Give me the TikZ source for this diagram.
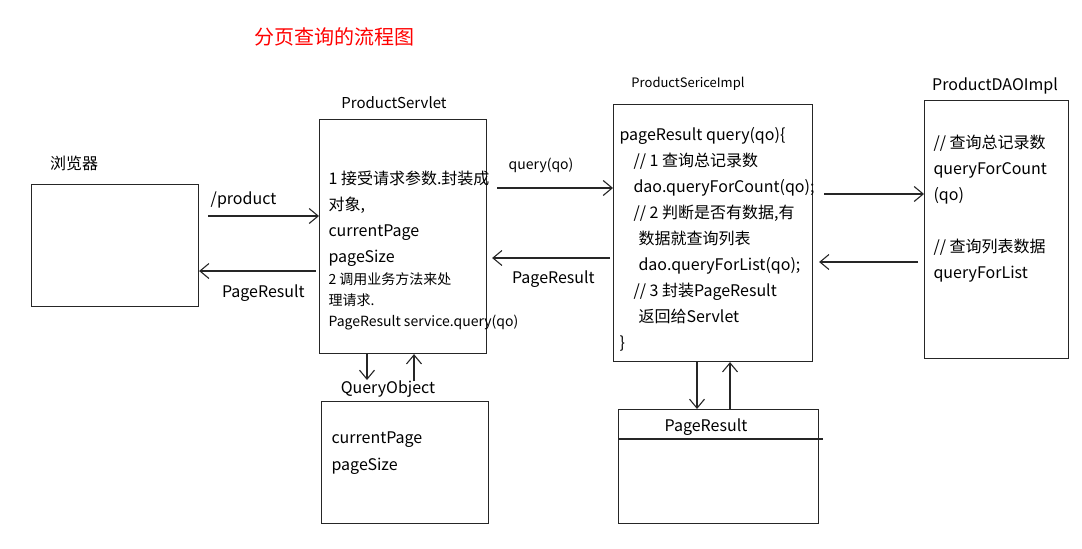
\documentclass[tikz,border=0pt]{standalone}
\usepackage{fontspec}
\setmainfont{Noto Sans CJK SC}
\usetikzlibrary{calc,arrows.meta}

\begin{document}
\begin{tikzpicture}[x=1pt, y=-1pt, line width=1.1pt, draw=black!85,
  box/.style={draw, anchor=north west, inner sep=0},
  lbl/.style={font=\fontsize{16}{26}\selectfont, inner sep=0},
  txt/.style={font=\fontsize{16}{26}\selectfont, align=left, anchor=base west, inner sep=0},
  arr/.style={-{Straight Barb[length=9pt,width=15pt]}}]

\useasboundingbox (0,0) rectangle (1082,549);

\node[red, font=\fontsize{20}{24}\selectfont] (title) at (334,37) {分页查询的流程图};

% boxes
\node[box, minimum width=167, minimum height=122] (brw) at (31,184) {};
\node[box, minimum width=167, minimum height=234] (srv) at (319,119) {};
\node[box, minimum width=199, minimum height=257] (svc) at (613,104) {};
\node[box, minimum width=144, minimum height=258] (dao) at (924,100) {};
\node[box, minimum width=167, minimum height=122] (qo) at (321,401) {};
\node[box, minimum width=200, minimum height=114] (res) at (618,409) {};
\draw ($(res.north west)+(0,30)$) -- ($(res.north east)+(4,30)$);

% titles
\node[lbl] (brwl) at (74,163) {浏览器};
\node[lbl, font=\fontsize{15}{20}\selectfont] (srvl) at (394,103) {ProductServlet};
\node[lbl, font=\fontsize{13}{18}\selectfont] (svcl) at (688,84) {ProductSericeImpl};
\node[lbl] (daol) at (995,86) {ProductDAOImpl};
\node[lbl] (qol) at (388,389) {QueryObject};
\node[lbl] (resl) at (706,427) {PageResult};

% contents (base = last line)
\node[txt] (srvt) at (328,262.5) {1 接受请求参数.封装成\\对象,\\currentPage\\pageSize};
\node[txt, font=\fontsize{14}{21}\selectfont] (srvs) at (328,326)
  {2 调用业务方法来处\\理请求.\\PageResult service.query(qo)};
\node[txt] (svct) at (619,348.5) {pageResult query(qo)\{\\
  \hspace*{14pt}// 1 查询总记录数\\
  \hspace*{14pt}dao.queryForCount(qo);\\
  \hspace*{14pt}// 2 判断是否有数据,有\\
  \hspace*{19pt}数据就查询列表\\
  \hspace*{19pt}dao.queryForList(qo);\\
  \hspace*{14pt}// 3 封装PageResult\\
  \hspace*{19pt}返回给Servlet\\
  \}};
\node[txt] (daot) at (933,278.5) {// 查询总记录数\\queryForCount\\(qo)\\[26pt]// 查询列表数据\\queryForList};
\node[txt, font=\fontsize{16}{27}\selectfont] (qot) at (331,470) {currentPage\\pageSize};

% connectors
\coordinate (p1) at (208,216);
\coordinate (p2) at (316,271);
\draw[arr] (p1) -- (p1 -| srv.west) node[lbl, pos=0.32, shift={(0,-16)}] (p1l) {/product};
\draw[arr] (p2) -- (p2 -| brw.east) node[lbl, pos=0.45, shift={(0,22)}] (p2l) {PageResult};

\coordinate (q1) at (497,188);
\coordinate (q2) at (610,258);
\draw[arr] (q1) -- (q1 -| svc.west) node[lbl, font=\fontsize{14}{18}\selectfont, pos=0.38, shift={(0,-23)}] (q1l) {query(qo)};
\draw[arr] (q2) -- ($(q2 -| srv.east)+(5,0)$) node[lbl, pos=0.48, shift={(0,21)}] (q2l) {PageResult};

\coordinate (c1) at (824,194);
\coordinate (c2) at (918,262);
\draw[arr] (c1) -- (c1 -| dao.west);
\draw[arr] (c2) -- ($(c2 -| svc.east)+(6,0)$);

\coordinate (d1) at (367,380);
\coordinate (u1) at (414,381);
\draw[arr] (d1 |- srv.south) -- (d1);
\draw[arr] (u1) -- (u1 |- srv.south);

\coordinate (d2) at (697,0);
\coordinate (u2) at (730,0);
\draw[arr] (d2 |- svc.south) -- (d2 |- res.north);
\draw[arr] (u2 |- res.north) -- (u2 |- svc.south);

\end{tikzpicture}
\end{document}
